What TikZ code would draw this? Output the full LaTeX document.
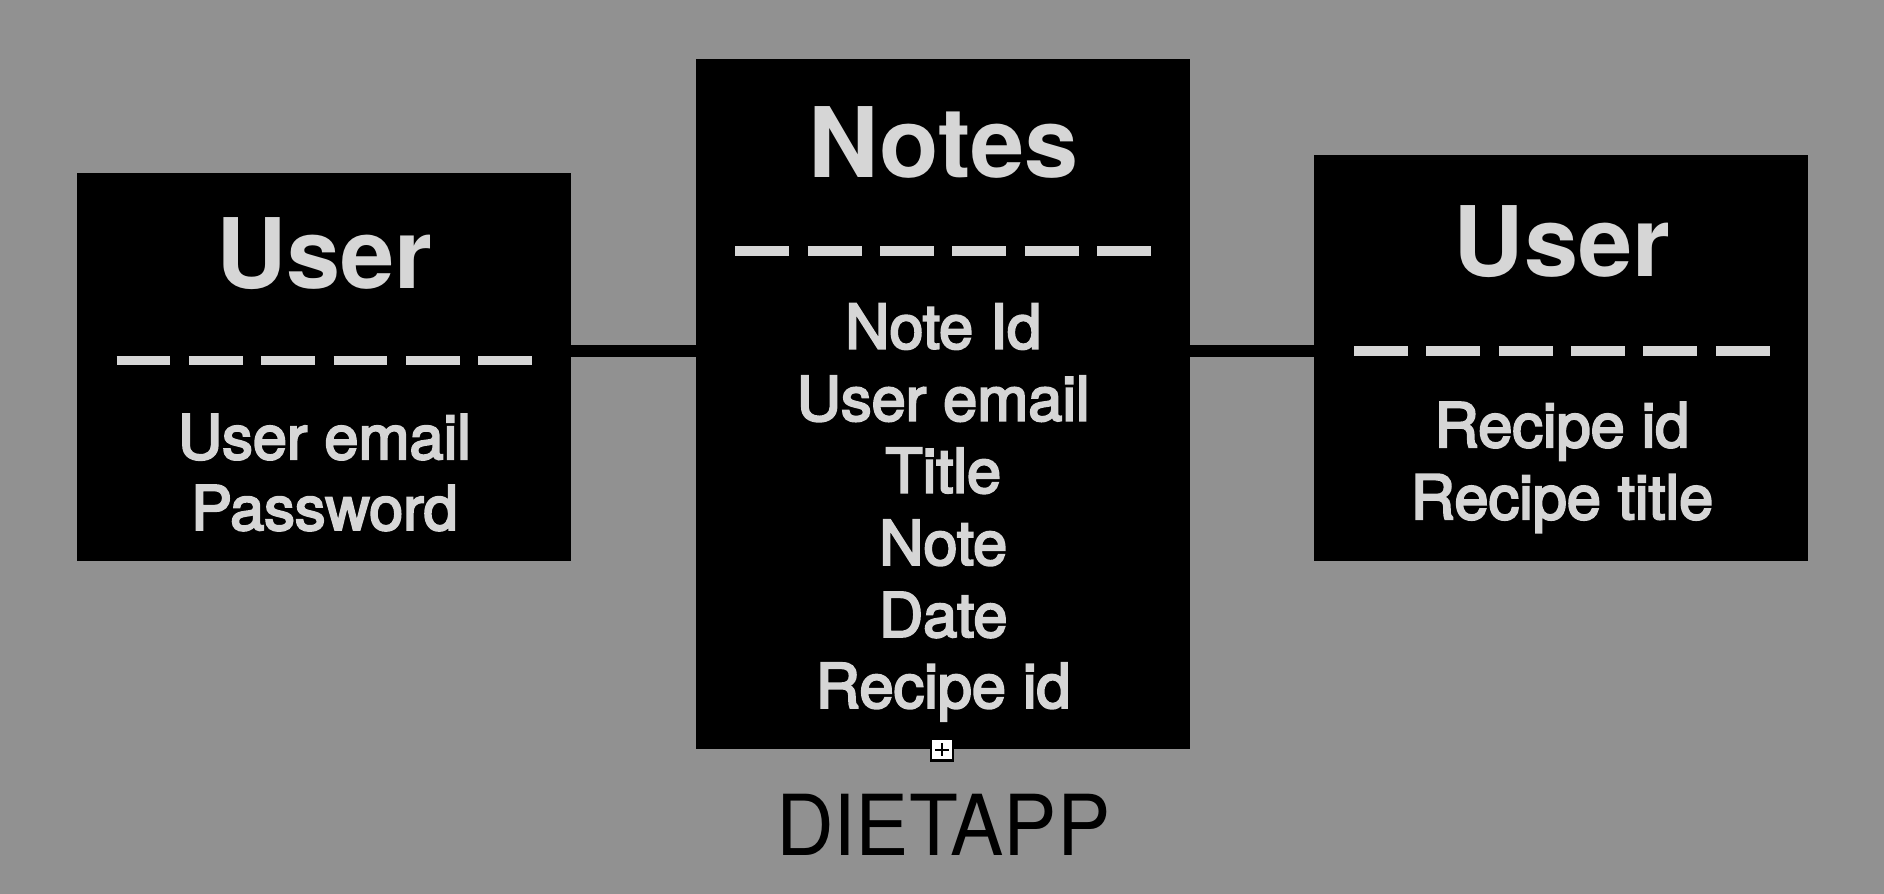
\documentclass[tikz,border=0pt]{standalone}
\usepackage{fontspec}
\setmainfont{TeX Gyre Heros}
\newfontfamily\medfont[FakeBold=3.5]{TeX Gyre Heros}
\definecolor{bggray}{RGB}{145,145,145}
\definecolor{txtgray}{RGB}{214,214,214}
\begin{document}
\begin{tikzpicture}[x=1pt,y=-1pt,
  entity/.style={fill=black,draw=none,inner sep=0pt,outer sep=0pt},
  titletext/.style={text=txtgray,anchor=base,inner sep=0pt,font=\fontsize{81}{81}\selectfont\bfseries},
  itemtext/.style={text=txtgray,anchor=base,inner sep=0pt,font=\medfont\fontsize{51}{51}\selectfont},
  sepline/.style={draw=txtgray,line width=8pt,dash pattern=on 44.8pt off 15.4pt},
  conn/.style={draw=black,line width=10pt},
  marker/.style={draw=black,fill=white,line width=1.8pt,minimum size=18pt,inner sep=0pt,
    path picture={\draw[black,line width=1.4pt] ([xshift=3.5pt]path picture bounding box.west) -- ([xshift=-3.5pt]path picture bounding box.east)
      ([yshift=-3.5pt]path picture bounding box.north) -- ([yshift=3.5pt]path picture bounding box.south);}},
  captiontext/.style={text=black,anchor=base,inner sep=0pt,font=\fontsize{70}{70}\selectfont}]
\fill[bggray] (0,0) rectangle (1568,744);
\useasboundingbox (0,0) rectangle (1568,744);
\coordinate (cy) at (0,292);
% entities
\node[entity,minimum width=411pt,minimum height=323pt] (user1) at (269.5,305.5) {};
\node[entity,minimum width=411pt,minimum height=574pt] (notes) at (784.5,336) {};
\node[entity,minimum width=411pt,minimum height=338pt] (user2) at (1299.5,298) {};
% connectors
\draw[conn] (user1.east |- cy) -- (notes.west |- cy);
\draw[conn] (notes.east |- cy) -- (user2.west |- cy);
% left User
\node[titletext] (t1) at (270,240) {User};
\draw[sepline] (97,300) -- (443,300);
\node[itemtext] (u1a) at (270,382) {User email};
\node[itemtext] (u1b) at (270,441) {Password};
% Notes
\node[titletext] (t2) at (785,148) {Notes};
\draw[sepline] (612,209) -- (958,209);
\node[itemtext] (n1) at (785,290) {Note Id};
\node[itemtext] (n2) at (785,350) {User email};
\node[itemtext] (n3) at (785,410) {Title};
\node[itemtext] (n4) at (785,470) {Note};
\node[itemtext] (n5) at (785,530) {Date};
\node[itemtext] (n6) at (785,589) {Recipe id};
% right User
\node[titletext] (t3) at (1300,230) {User};
\draw[sepline] (1127,292) -- (1473,292);
\node[itemtext] (u2a) at (1300,372) {Recipe id};
\node[itemtext] (u2b) at (1300,432) {Recipe title};
% marker and caption
\node[marker] (mk) at (784,624) {};
\node[captiontext,xscale=0.95] (cap) at (785,712) {DIETAPP};
\end{tikzpicture}
\end{document}
